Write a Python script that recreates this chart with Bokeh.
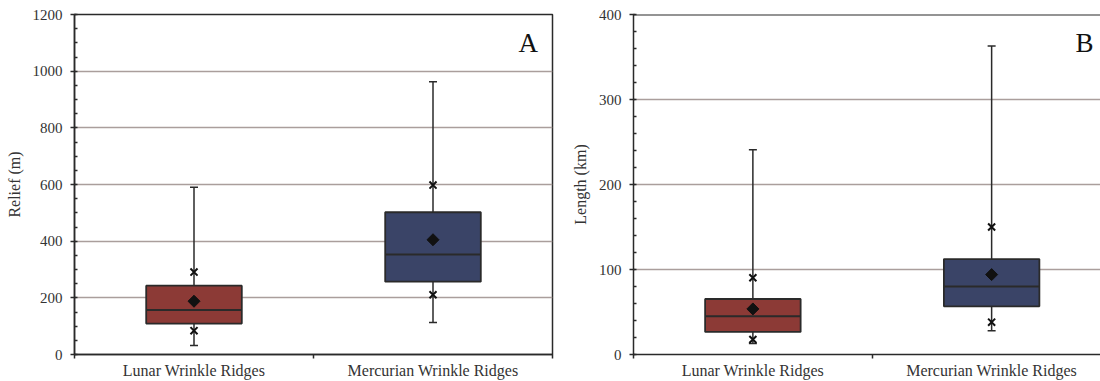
import numpy as np
from bokeh.plotting import figure
from bokeh.layouts import row
from bokeh.models import Range1d, FixedTicker, SingleIntervalTicker, Span
from bokeh.core.properties import value
from bokeh.embed import file_html
from bokeh.resources import INLINE

categories = ["Lunar Wrinkle Ridges", "Mercurian Wrinkle Ridges"]
box_colors = ["#8c3a36", "#3a4467"]

# Panel A: Relief (m)
relief_min = [32, 113]
relief_low_x = [84, 211]
relief_q1 = [109, 257]
relief_median = [157, 353]
relief_mean = [188, 405]
relief_q3 = [243, 502]
relief_high_x = [291, 598]
relief_max = [590, 963]

# Panel B: Length (km)
length_min = [13, 28]
length_low_x = [17.6, 38]
length_q1 = [26.6, 56.7]
length_median = [45, 80]
length_mean = [53.6, 94]
length_q3 = [65.3, 112.3]
length_high_x = [90.3, 150]
length_max = [241, 363]

FONT = "Liberation Serif"
DARK = "#2a2a2a"
GRID = "#aa9e9c"


def make_panel(ylabel, y_end, interval, n_minor, mn, lo, q1, med, mean, q3, hi, mx,
               width, left, x_end, letter, letter_x, letter_y, full_outline):
    xs = [i + 0.5 for i in range(len(categories))]
    p = figure(width=width, height=381, x_range=Range1d(0, x_end), y_range=Range1d(0, y_end),
               output_backend="svg", toolbar_location=None,
               min_border_left=left, min_border_right=(15 if full_outline else 0),
               min_border_top=14, min_border_bottom=0,
               background_fill_color="white", border_fill_color="white")
    if full_outline:
        p.outline_line_color = DARK
        p.outline_line_width = 1.5
    else:
        p.outline_line_alpha = 0
        p.add_layout(Span(location=y_end, dimension="width", line_color=DARK, line_width=2))

    # y axis
    yt = SingleIntervalTicker(interval=interval, num_minor_ticks=n_minor)
    p.yaxis.ticker = yt
    p.ygrid.ticker = yt
    p.ygrid.grid_line_color = GRID
    p.ygrid.grid_line_width = 1.5
    p.xgrid.visible = False
    p.yaxis.axis_label = ylabel
    p.yaxis.axis_label_text_font = FONT
    p.yaxis.axis_label_text_font_style = "normal"
    p.yaxis.axis_label_text_font_size = "16px"
    p.yaxis.axis_label_text_color = "#333333"
    p.yaxis.axis_label_standoff = 7
    p.yaxis.major_label_text_font = FONT
    p.yaxis.major_label_text_font_size = "15px"
    p.yaxis.major_label_text_color = "#333333"
    p.yaxis.major_label_standoff = 8
    p.yaxis.major_tick_out = 4
    p.yaxis.major_tick_in = 1
    p.yaxis.minor_tick_in = 3
    p.yaxis.minor_tick_out = 0
    p.yaxis.axis_line_color = DARK
    p.yaxis.axis_line_width = 1.5
    p.yaxis.major_tick_line_color = DARK
    p.yaxis.major_tick_line_width = 1.5
    p.yaxis.minor_tick_line_color = DARK
    p.yaxis.minor_tick_line_width = 1.5

    # x axis
    p.xaxis.ticker = FixedTicker(ticks=xs, minor_ticks=[float(i) for i in range(len(categories) + 1)])
    p.xaxis.major_label_overrides = {x: c for x, c in zip(xs, categories)}
    p.xaxis.major_label_text_font = FONT
    p.xaxis.major_label_text_font_size = "16px"
    p.xaxis.major_label_text_color = "#333333"
    p.xaxis.major_label_standoff = 3
    p.xaxis.major_tick_out = 0
    p.xaxis.major_tick_in = 0
    p.xaxis.minor_tick_out = 4
    p.xaxis.minor_tick_in = 0
    p.xaxis.axis_line_color = DARK
    p.xaxis.axis_line_width = 1.5
    p.xaxis.minor_tick_line_color = DARK
    p.xaxis.minor_tick_line_width = 1.5

    # whiskers
    p.segment(x0=xs, y0=mn, x1=xs, y1=mx, line_color=DARK, line_width=1.5)
    p.scatter(x=xs + xs, y=mn + mx, marker="dash", size=8, line_color=DARK, line_width=1.5)
    # boxes
    p.vbar(x=xs, width=0.4, bottom=q1, top=q3, fill_color=box_colors,
           line_color=DARK, line_width=1.8)
    p.segment(x0=[x - 0.2 for x in xs], y0=med, x1=[x + 0.2 for x in xs], y1=med,
              line_color=DARK, line_width=1.8)
    # 10th / 90th markers
    p.scatter(x=xs + xs, y=lo + hi, marker="x", size=10, line_color="#111111", line_width=2)
    # mean
    p.scatter(x=xs, y=mean, marker="square", angle=np.pi / 4, size=8.5,
              fill_color="#111111", line_color="#111111")
    # panel letter
    p.text(x=[letter_x], y=[letter_y], text=[letter], text_font=value(FONT),
           text_font_size="27px", text_color="#111111", text_align="right",
           text_baseline="alphabetic")
    return p


pa = make_panel("Relief (m)", 1200, 200, 4,
                relief_min, relief_low_x, relief_q1, relief_median, relief_mean,
                relief_q3, relief_high_x, relief_max,
                567, 74, 2.0, "A", 1.939, 1098, True)
pb = make_panel("Length (km)", 400, 100, 5,
                length_min, length_low_x, length_q1, length_median, length_mean,
                length_q3, length_high_x, length_max,
                533, 66, 467 / 238.75, "B", 1.927, 366, False)

layout = row(pa, pb)
open("out.html", "w").write(file_html(layout, INLINE))
